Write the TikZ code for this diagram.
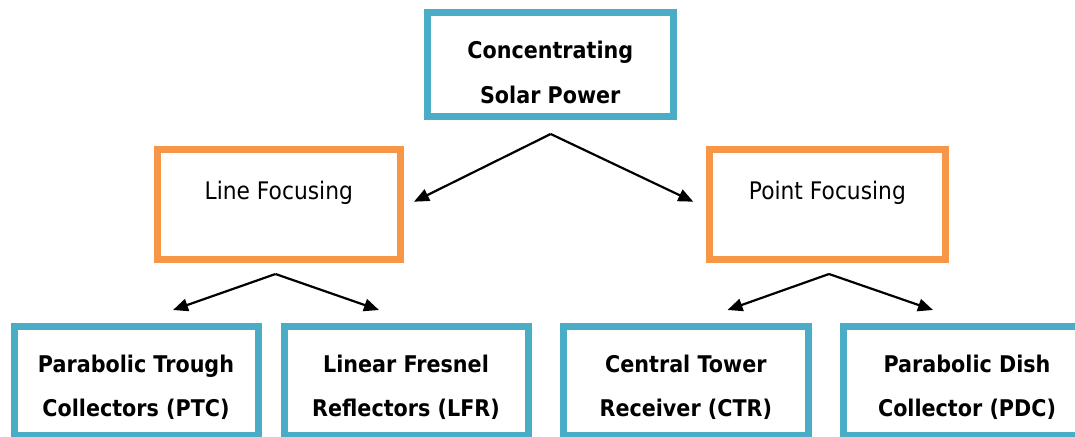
\documentclass[tikz,border=0pt]{standalone}
\usepackage{fontspec}
\setmainfont{DejaVu Sans}[FakeStretch=0.9]
\usetikzlibrary{arrows.meta}
\definecolor{tealc}{HTML}{4BACC6}
\definecolor{orangec}{HTML}{F79646}
\tikzset{
  tbox/.style={draw=tealc, line width=7pt, rectangle, inner sep=0pt, fill=none},
  obox/.style={draw=orangec, line width=7pt, rectangle, inner sep=0pt, fill=none},
  btxt/.style={anchor=base, inner sep=0pt, font=\fontsize{23}{27}\selectfont\bfseries, text=black},
  rtxt/.style={anchor=base, inner sep=0pt, font=\fontsize{24.2}{28}\selectfont, text=black},
  arr/.style={draw=black, line width=2.2pt, -{Triangle[length=15pt,width=12.5pt]}}
}
\begin{document}
\begin{tikzpicture}[x=1pt,y=-1pt]
\useasboundingbox (0,0) rectangle (1075,436);
\clip (0,0) rectangle (1075,436);
\fill[white] (0,0) rectangle (1075,436);
% boxes
\node[tbox, minimum width=245.5pt, minimum height=103.5pt] (csp) at (550.25,64.75) {};
\node[obox, minimum width=243.5pt, minimum height=110.4pt] (lf) at (278.75,204.2) {};
\node[obox, minimum width=235.3pt, minimum height=110.4pt] (pf) at (827.35,204.2) {};
\node[tbox, minimum width=244pt, minimum height=109.5pt] (ptc) at (136,380.75) {};
\node[tbox, minimum width=244pt, minimum height=109.5pt] (lfr) at (406,380.75) {};
\node[tbox, minimum width=244.3pt, minimum height=109.5pt] (ctr) at (685.85,380.75) {};
\node[tbox, minimum width=244pt, minimum height=109.5pt] (pdc) at (965,380.75) {};
% texts
\node[btxt] (csp1) at (550.25,59) {Concentrating};
\node[btxt] (csp2) at (550.25,103.5) {Solar Power};
\node[rtxt] (lft) at (278.75,199.3) {Line Focusing};
\node[rtxt] (pft) at (827.35,199.3) {Point Focusing};
\node[btxt] (ptc1) at (136,372) {Parabolic Trough};
\node[btxt] (ptc2) at (136,416.5) {Collectors (PTC)};
\node[btxt] (lfr1) at (406,372) {Linear Fresnel};
\node[btxt] (lfr2) at (406,416.5) {Reflectors (LFR)};
\node[btxt] (ctr1) at (685.85,372) {Central Tower};
\node[btxt] (ctr2) at (685.85,416.5) {Receiver (CTR)};
\node[btxt] (pdc1) at (967,372) {Parabolic Dish};
\node[btxt] (pdc2) at (967,416.5) {Collector (PDC)};
% connector points
\coordinate (cspA) at (550.7,134);
\coordinate (lfIn) at (414,201.7);
\coordinate (pfIn) at (693.3,201.7);
\coordinate (lfA) at (275.5,274);
\coordinate (ptcIn) at (173,310);
\coordinate (lfrIn) at (379,310);
\coordinate (pfA) at (829,274);
\coordinate (ctrIn) at (727.5,310);
\coordinate (pdcIn) at (933,310);
% connectors
\draw[arr] (cspA) -- (lfIn);
\draw[arr] (cspA) -- (pfIn);
\draw[arr] (lfA) -- (ptcIn);
\draw[arr] (lfA) -- (lfrIn);
\draw[arr] (pfA) -- (ctrIn);
\draw[arr] (pfA) -- (pdcIn);
\end{tikzpicture}
\end{document}
